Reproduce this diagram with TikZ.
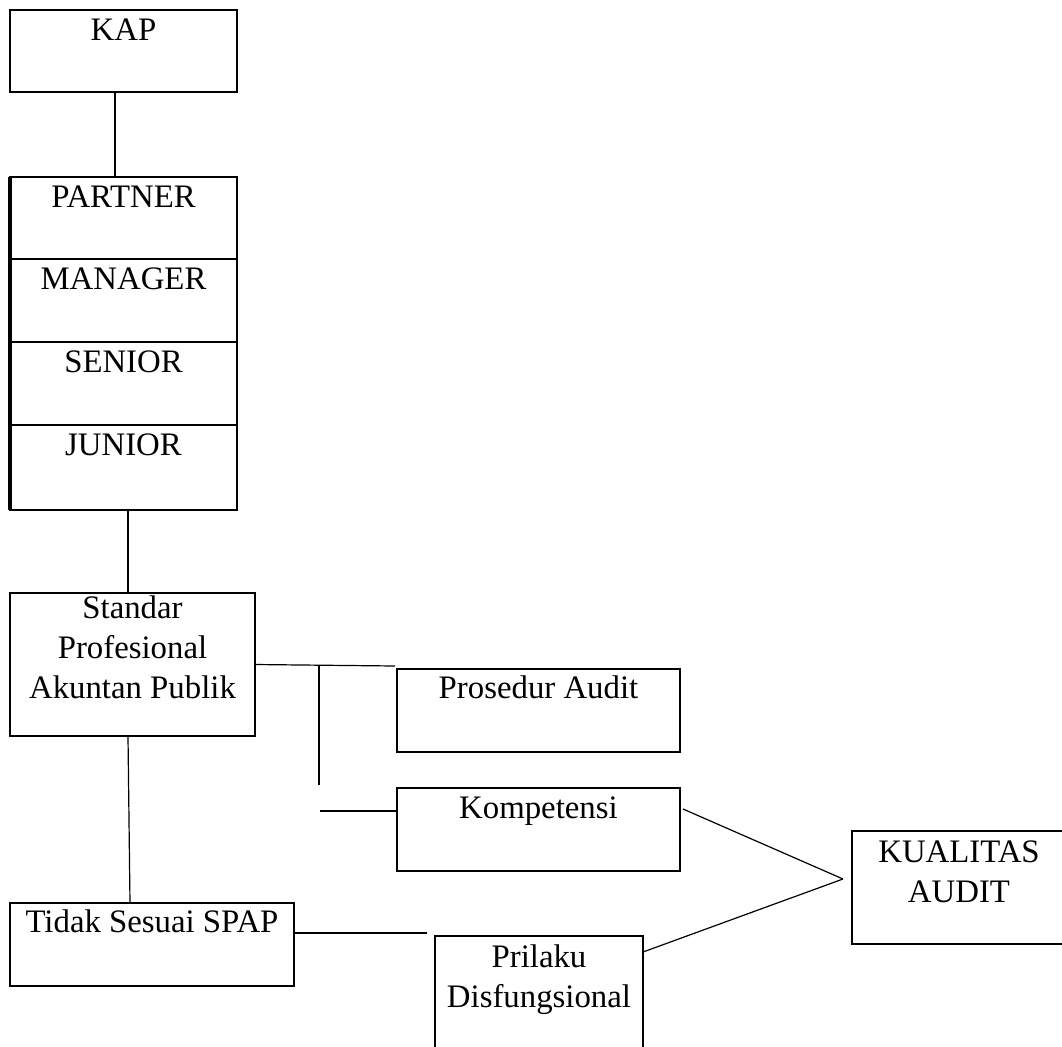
\documentclass[tikz,border=0pt]{standalone}
\usepackage{fontspec}
\setmainfont{Liberation Serif}
\begin{document}
\begin{tikzpicture}[x=0.5pt,y=-0.5pt,
  box/.style={draw, line width=1.1pt, inner sep=0pt, outer sep=0pt, anchor=north west},
  txt/.style={font=\fontsize{16.4}{20}\selectfont, inner sep=0pt, align=center, anchor=base},
  conn/.style={line width=0.6pt}]
\path[use as bounding box] (0,0) rectangle (1062,1046);
\clip (0,0) rectangle (1062,1046);
% boxes
\node[box, minimum width=113.5pt, minimum height=41pt] (kap) at (10,10) {};
\node[txt] (kapt) at ([yshift=-15pt]kap.north) {KAP};
\node[box, minimum width=113.5pt, minimum height=41pt] (partner) at (10,177) {};
\node[txt] (partnert) at ([yshift=-15pt]partner.north) {PARTNER};
\node[box, minimum width=113.5pt, minimum height=41.5pt] (manager) at (10,259) {};
\node[txt] (managert) at ([yshift=-15pt]manager.north) {MANAGER};
\node[box, minimum width=113.5pt, minimum height=41.5pt] (senior) at (10,342) {};
\node[txt] (seniort) at ([yshift=-15pt]senior.north) {SENIOR};
\node[box, minimum width=113.5pt, minimum height=42.5pt] (junior) at (10,425) {};
\node[txt] (juniort) at ([yshift=-15pt]junior.north) {JUNIOR};
\draw[line width=1.7pt] (partner.north west) -- (junior.south west);
\node[box, minimum width=122.5pt, minimum height=71.5pt] (spap) at (10,593) {};
\node[txt] (spapt) at ([yshift=-52.5pt]spap.north) {Standar\\Profesional\\Akuntan Publik};
\node[box, minimum width=141.5pt, minimum height=41.5pt] (prosedur) at (397,669) {};
\node[txt] (prosedurt) at ([yshift=-14.5pt]prosedur.north) {Prosedur Audit};
\node[box, minimum width=141.5pt, minimum height=41.5pt] (kompetensi) at (397,788) {};
\node[txt] (kompetensit) at ([yshift=-15pt]kompetensi.north) {Kompetensi};
\node[box, minimum width=107pt, minimum height=56.5pt] (kualitas) at (852,831) {};
\node[txt] (kualitast) at ([yshift=-35.5pt]kualitas.north) {KUALITAS\\AUDIT};
\node[box, minimum width=142pt, minimum height=41.5pt] (tidak) at (10,903) {};
\node[txt] (tidakt) at ([yshift=-14.5pt]tidak.north) {Tidak Sesuai SPAP};
\node[box, minimum width=104pt, minimum height=70pt] (prilaku) at (435,936) {};
\node[txt] (prilakut) at ([yshift=-35.5pt]prilaku.north) {Prilaku\\Disfungsional};
% connectors
\coordinate (pe) at (395,666);
\coordinate (vt) at (319,664.8);
\coordinate (vb) at (319,785);
\coordinate (ks) at (320,811);
\coordinate (kq) at (843,879);
\coordinate (te) at (427,933);
\draw[conn] ([xshift=-4.25pt]kap.south) -- ([xshift=-4.25pt]partner.north);
\draw[conn] ([xshift=2.25pt]junior.south) -- ([xshift=-2.25pt]spap.north);
\draw[conn] ([xshift=-2.25pt]spap.south) -- ([xshift=-11pt]tidak.north);
\draw[conn] (spap.east) -- (pe);
\draw[conn] (vt) -- (vb);
\draw[conn] (ks) -- (kompetensi.west |- ks);
\draw[conn] ([xshift=1.5pt,yshift=-10.5pt]kompetensi.north east) -- (kq);
\draw[conn] ([yshift=-8pt]prilaku.north east) -- (kq);
\draw[conn] (tidak.east |- te) -- (te);
\end{tikzpicture}
\end{document}
